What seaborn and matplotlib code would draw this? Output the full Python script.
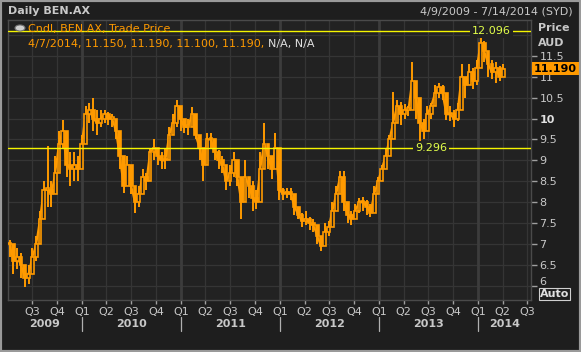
import numpy as np
import pandas as pd
import matplotlib
matplotlib.use("Agg")
import matplotlib.pyplot as plt
import matplotlib.dates as mdates
import matplotlib.transforms as mtrans
from matplotlib.patches import Rectangle, Circle
import seaborn as sns

# ---- data (bi-weekly candles) ----
close = [7.0, 6.6, 6.7, 6.5, 6.2, 6.3, 6.7, 7.0, 7.6, 8.3,
         8.3, 8.2, 8.7, 9.4, 9.7, 8.9, 8.8, 8.9, 8.8, 9.4,
         10.1, 10.2, 10.0, 9.9, 10.0, 10.1, 10.0, 10.0, 9.7, 9.1,
         8.4, 8.9, 8.4, 8.0, 8.2, 8.6, 8.5, 9.2, 9.3, 9.1,
         9.0, 9.0, 9.6, 9.9, 10.3, 10.0, 9.8, 9.8, 10.1, 9.6,
         9.3, 8.9, 9.5, 9.5, 9.2, 9.0, 8.9, 8.5, 8.7, 9.0,
         8.6, 8.0, 8.6, 8.4, 8.1, 8.0, 8.8, 9.4, 9.1, 8.8,
         9.3, 8.3, 8.2, 8.25, 8.2, 7.9, 7.7, 7.55, 7.6, 7.5,
         7.45, 7.2, 6.95, 7.3, 7.4, 7.8, 8.2, 8.6, 8.0, 7.7,
         7.6, 7.8, 8.0, 8.0, 7.9, 7.75, 8.2, 8.5, 8.8, 9.1,
         9.5, 9.9, 10.3, 10.1, 10.2, 10.2, 10.9, 10.5, 9.9, 9.7,
         10.1, 10.3, 10.6, 10.75, 10.6, 10.1, 10.1, 10.0, 10.2, 11.0,
         10.8, 11.1, 10.9, 11.2, 11.8, 11.6, 11.3, 11.1, 11.2, 11.0,
         11.19]
high = [7.1, 6.9, 6.9, 6.8, 6.5, 6.5, 6.9, 7.2, 7.8, 8.5,
        9.35, 8.5, 9.1, 9.7, 9.97, 9.5, 9.2, 9.2, 9.1, 9.6,
        10.3, 10.37, 10.49, 10.2, 10.2, 10.2, 10.15, 10.1, 10.0, 9.6,
        8.9, 9.1, 8.7, 8.4, 8.4, 8.8, 8.7, 9.3, 9.5, 9.3,
        9.2, 9.3, 9.8, 10.1, 10.44, 10.2, 10.0, 10.0, 10.28, 9.8,
        9.4, 9.3, 9.65, 9.65, 9.4, 9.25, 9.1, 8.75, 8.9, 9.2,
        8.8, 8.6, 9.0, 8.6, 8.5, 8.3, 9.2, 9.9, 9.4, 9.1,
        9.65, 8.7, 8.35, 8.35, 8.35, 8.1, 7.85, 7.75, 7.8, 7.65,
        7.6, 7.45, 7.2, 7.5, 7.55, 8.0, 8.4, 8.75, 8.75, 7.9,
        7.8, 7.95, 8.1, 8.13, 8.06, 7.95, 8.4, 8.6, 8.9, 9.3,
        9.6, 10.63, 10.45, 10.4, 10.35, 10.3, 11.35, 10.75, 10.2, 10.0,
        10.3, 10.37, 10.8, 10.85, 10.8, 10.4, 10.3, 10.2, 10.37, 11.3,
        11.0, 11.3, 11.2, 11.4, 12.096, 11.85, 11.5, 11.4, 11.35, 11.25,
        11.3]
low = [6.7, 6.3, 6.4, 6.2, 5.97, 6.05, 6.3, 6.6, 7.0, 7.6,
       7.9, 7.9, 8.2, 8.9, 9.3, 8.6, 8.4, 8.5, 8.5, 8.9,
       9.7, 9.9, 9.7, 9.6, 9.8, 9.9, 9.85, 9.8, 9.5, 8.8,
       8.23, 8.5, 8.2, 7.75, 7.9, 8.3, 8.3, 8.7, 9.0, 8.9,
       8.8, 8.8, 9.3, 9.6, 9.8, 9.7, 9.65, 9.6, 9.8, 9.5,
       9.0, 8.5, 9.1, 9.3, 9.0, 8.8, 8.7, 8.3, 8.4, 8.6,
       8.4, 7.6, 8.3, 8.1, 7.8, 7.85, 8.5, 9.0, 8.8, 8.55,
       9.0, 8.06, 8.06, 8.1, 8.06, 7.7, 7.6, 7.4, 7.45, 7.35,
       7.3, 7.0, 6.85, 7.1, 7.2, 7.6, 7.9, 8.35, 7.8, 7.5,
       7.47, 7.6, 7.75, 7.8, 7.7, 7.65, 8.0, 8.3, 8.55, 8.95,
       9.3, 9.8, 9.9, 9.85, 10.0, 10.05, 10.4, 10.0, 9.42, 9.5,
       9.9, 10.0, 10.45, 10.5, 10.45, 9.97, 9.95, 9.8, 9.95, 10.3,
       10.5, 10.8, 10.7, 10.8, 11.5, 11.35, 11.0, 10.95, 10.85, 10.9,
       11.05]
dates = pd.date_range("2009-04-09", periods=len(close), freq="14D")
quarter_ticks = pd.date_range("2009-07-01", "2014-07-01", freq="QS")
quarter_labels = ["Q%d" % ((d.month - 1) // 3 + 1) for d in quarter_ticks]
years = [2009, 2010, 2011, 2012, 2013, 2014]
y_ticks = [6, 6.5, 7, 7.5, 8, 8.5, 9, 9.5, 10, 10.5, 11, 11.5]
y_labels = ["6", "6.5", "7", "7.5", "8", "8.5", "9", "9.5", "10", "10.5", "11", "11.5"]
hi_line, lo_line = 12.096, 9.296
last_price = 11.190

df = pd.DataFrame({"date": dates, "close": close, "high": high, "low": low})
df["open"] = df["close"].shift(1).fillna(df["close"].iloc[0])

# ---- style ----
BG = "#1e1e1e"
PLOT_BG = "#222222"
GRID = "#353535"
TXT = "#c8c8c8"
ORANGE = "#ff9a00"
sns.set_theme(style="dark", rc={"axes.facecolor": PLOT_BG, "figure.facecolor": BG})
plt.rcParams["font.family"] = ["DejaVu Sans"]

W, H = 581, 352
fig = plt.figure(figsize=(W / 100, H / 100), dpi=100)
L, R, T, B = 8, 531, 20, 300
ax = fig.add_axes([L / W, 1 - B / H, (R - L) / W, (B - T) / H])
ax.set_facecolor(PLOT_BG)

xmin = pd.Timestamp("2009-04-03")
xmax = pd.Timestamp("2014-07-14")
ax.set_xlim(xmin, xmax)
ax.set_ylim(5.67, 12.35)

# grid
for yv in np.arange(6.0, 12.01, 0.5):
    ax.axhline(yv, color=GRID, lw=0.9, zorder=0)
for d in quarter_ticks:
    is_year = d.month == 1
    ax.axvline(d, color="#3c3c3c" if is_year else GRID, lw=2.0 if is_year else 0.9, zorder=0)

# candles: wick + body
ax.vlines(df["date"], df["low"], df["high"], color=ORANGE, lw=1.4, zorder=3)
sns.lineplot(data=df, x="date", y="close", ax=ax, color=ORANGE, lw=1.5, zorder=3)
body_w = 10  # days
for d, o, c in zip(df["date"], df["open"], df["close"]):
    lo_b, h_b = min(o, c), max(abs(c - o), 0.04)
    up = c >= o
    ax.add_patch(Rectangle((mdates.date2num(d) - body_w / 2, lo_b), body_w, h_b,
                           facecolor=PLOT_BG if up else ORANGE, edgecolor=ORANGE,
                           lw=1.2, zorder=4))

# horizontal reference lines
LINE_Y = "#f5f500"
LBL_Y = "#e2ff4a"
for val, xl in [(hi_line, pd.Timestamp("2014-02-17")), (lo_line, pd.Timestamp("2013-07-11"))]:
    ax.axhline(val, color=LINE_Y, lw=1.0, zorder=5)
    ax.text(xl, val, f"{val:.3f}", color=LBL_Y, fontsize=8, ha="center", va="center", zorder=6,
            bbox=dict(facecolor=PLOT_BG, edgecolor="none", pad=1.5))

# axes spines
for s in ax.spines.values():
    s.set_color("#4a4a4a")
    s.set_linewidth(1.0)

# y axis on right
ax.yaxis.tick_right()
ax.set_yticks(y_ticks)
ax.set_yticklabels(y_labels)
ax.tick_params(axis="y", which="both", right=True, left=False, direction="out", length=4,
               width=1, color="#a0a0a0", labelcolor=TXT, labelsize=8, pad=2)
for lab in ax.get_yticklabels():
    if lab.get_text() == "10":
        lab.set_fontweight("bold")
        lab.set_color("#e0e0e0")
    if lab.get_text() == "6":
        lab.set_transform(lab.get_transform() + mtrans.ScaledTranslation(0, 5 / 100, fig.dpi_scale_trans))
ax.set_ylabel("")

# x axis quarters
ax.set_xticks(quarter_ticks)
ax.set_xticklabels(quarter_labels)
ax.tick_params(axis="x", bottom=True, direction="out", length=3, width=1, color="#a0a0a0",
               labelcolor=TXT, labelsize=8, pad=2)
ax.set_xlabel("")
ax.grid(False)

# year labels and separators
trans = mtrans.blended_transform_factory(ax.transData, ax.transAxes)
for yr in years:
    start = max(pd.Timestamp(f"{yr}-01-01"), xmin)
    end = min(pd.Timestamp(f"{yr + 1}-01-01"), xmax)
    mid = start + (end - start) / 2
    ax.text(mid, -0.087, str(yr), transform=trans, ha="center", va="center",
            fontsize=8, fontweight="bold", color=TXT, clip_on=False)
    if yr > 2009:
        ax.plot([pd.Timestamp(f"{yr}-01-01")] * 2, [-0.062, -0.11], transform=trans,
                color="#b0b0b0", lw=0.9, clip_on=False)

# header texts
fig.text(8 / W, 1 - 11 / H, "Daily BEN.AX", color=TXT, fontsize=8, fontweight="bold", va="center")
fig.text(573 / W, 1 - 11 / H, "4/9/2009 - 7/14/2014 (SYD)", color=TXT, fontsize=8, ha="right", va="center")
fig.text(538 / W, 1 - 28 / H, "Price", color=TXT, fontsize=8, fontweight="bold", va="center")
fig.text(538 / W, 1 - 43 / H, "AUD", color=TXT, fontsize=8, fontweight="bold", va="center")

# legend
fig.patches.append(Circle((20 / W, 1 - 28 / H), 5 / W, transform=fig.transFigure,
                          facecolor="#d0d0d0", edgecolor="#707070", lw=0.8, zorder=10))
fig.text(28 / W, 1 - 29 / H, "Cndl, BEN.AX, Trade Price", color=ORANGE, fontsize=8, va="center", zorder=11)
leg2 = fig.text(28 / W, 1 - 44 / H, "4/7/2014, 11.150, 11.190, 11.100, 11.190, ",
                color=ORANGE, fontsize=8, va="center")
fig.canvas.draw()
bb = leg2.get_window_extent()
fig.text(bb.x1 / W, 1 - 44 / H, "N/A, N/A", color="#e0e0e0", fontsize=8, va="center")

# last price tag
ypix = fig.transFigure.inverted().transform(ax.transData.transform((0, last_price)))[1]
fig.text(534 / W, ypix, f"{last_price:.3f}", color="black", fontsize=8, fontweight="bold", va="center",
         bbox=dict(facecolor=ORANGE, edgecolor="none", pad=1.2))

# Auto box
fig.text(540 / W, 1 - 294 / H, "Auto", color="#e0e0e0", fontsize=8, fontweight="bold", va="center",
         bbox=dict(facecolor=BG, edgecolor="#d0d0d0", pad=0.8, lw=0.8))

# outer frame
fig.patches.append(Rectangle((0, 0), 1, 1, transform=fig.transFigure, fill=False,
                             edgecolor="#9a9a9a", lw=3, zorder=20))

fig.savefig("out.png", dpi=100, facecolor=BG)
